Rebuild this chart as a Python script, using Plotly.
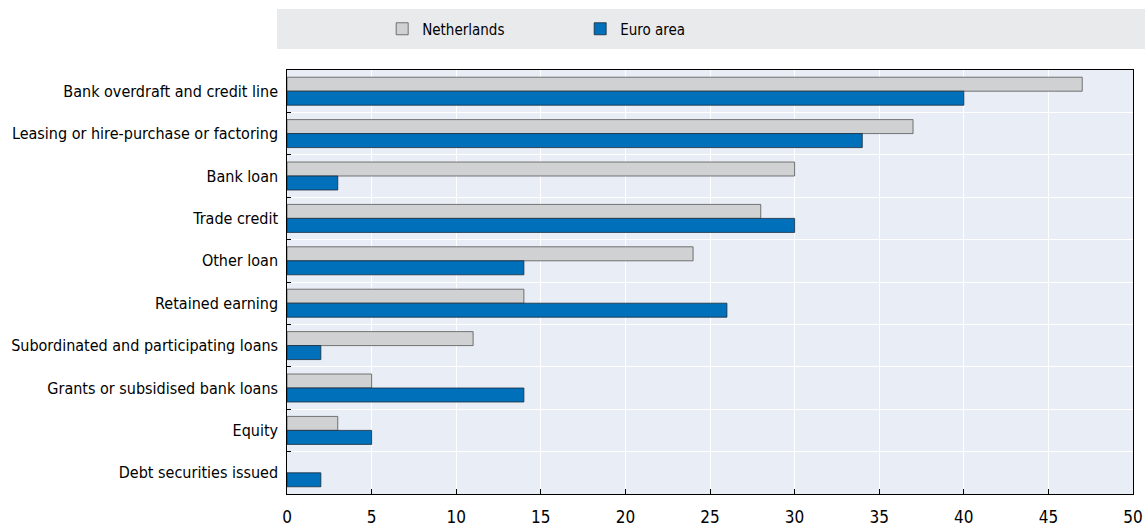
import plotly.graph_objects as go

categories = [
    "Bank overdraft and credit line",
    "Leasing or hire-purchase or factoring",
    "Bank loan",
    "Trade credit",
    "Other loan",
    "Retained earning",
    "Subordinated and participating loans",
    "Grants or subsidised bank loans",
    "Equity",
    "Debt securities issued",
]
netherlands = [47, 37, 30, 28, 24, 14, 11, 5, 3, 0]
euro_area = [40, 34, 3, 30, 14, 26, 2, 14, 5, 2]
x_ticks = [0, 5, 10, 15, 20, 25, 30, 35, 40, 45, 50]

FONT = "DejaVu Sans Condensed"

fig = go.Figure()
fig.add_trace(go.Bar(
    y=categories, x=netherlands, orientation="h", name="Netherlands",
    marker=dict(color="#D0D1D3",
                line=dict(color="#555555", width=[0.8 if v else 0 for v in netherlands])),
))
fig.add_trace(go.Bar(
    y=categories, x=euro_area, orientation="h", name="Euro area",
    marker=dict(color="#0070BA",
                line=dict(color="#1B2A3A", width=[0.8 if v else 0 for v in euro_area])),
))

# grey band behind the legend
fig.add_shape(type="rect", xref="paper", yref="paper",
              x0=-10 / 846, x1=860 / 846, y0=(494 - 49) / 424, y1=(494 - 9) / 424,
              fillcolor="#E9EAEC", line=dict(width=0), layer="below")

fig.update_layout(
    width=1145, height=526,
    margin=dict(l=287, r=12, t=70, b=32, autoexpand=False),
    paper_bgcolor="white",
    plot_bgcolor="#E9EEF6",
    font=dict(family=FONT, size=16, color="#000000"),
    barmode="group", bargap=0.34, bargroupgap=0,
    showlegend=True,
    legend=dict(orientation="h", x=0.1125, xanchor="left", y=(494 - 29) / 424, yanchor="middle",
                bgcolor="rgba(0,0,0,0)", entrywidth=153, entrywidthmode="pixels",
                font=dict(size=15), itemwidth=30, traceorder="normal"),
)
fig.update_xaxes(
    range=[0, 50], tickvals=x_ticks, showgrid=True, gridcolor="white", gridwidth=1.3,
    ticks="inside", ticklen=5, tickcolor="#000000", showline=True, linecolor="#000000",
    linewidth=1.3, mirror=True, zeroline=False, tickfont=dict(size=17),
    ticklabelstandoff=7,
)
fig.update_yaxes(
    autorange="reversed", tickson="boundaries", ticks="inside", ticklen=4,
    tickcolor="#000000", showgrid=True, gridcolor="white", gridwidth=1.3,
    showline=True, linecolor="#000000", linewidth=1.3, mirror=True,
    ticksuffix=" ",
)

# drop the default body margin so the figure fills the window exactly
fig.write_html("out.html", config={"displayModeBar": False},
               post_script="document.body.style.margin='0';")
